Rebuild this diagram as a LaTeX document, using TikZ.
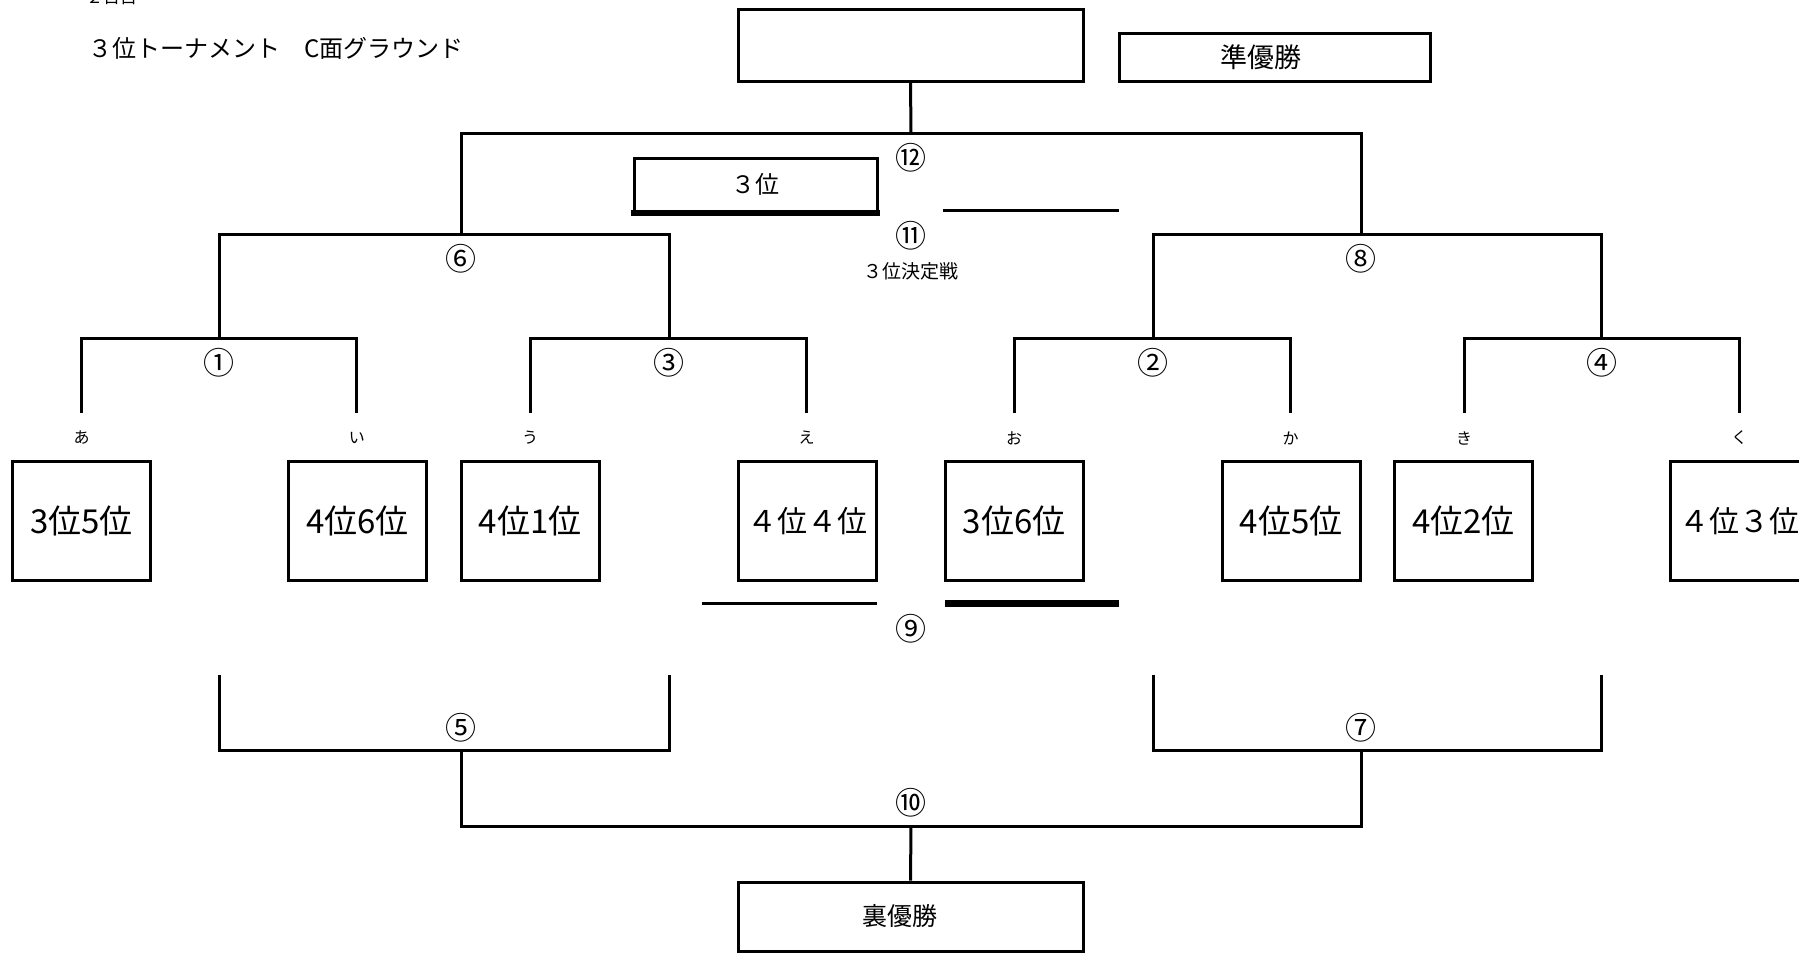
\documentclass[tikz,border=0pt]{standalone}
\usepackage{fontspec}
\setmainfont{Noto Sans CJK JP}
\begin{document}
\begin{tikzpicture}[x=1pt,y=-1pt,
  box/.style={draw,line width=3pt,inner sep=0pt,anchor=center},
  pbox/.style={box,minimum width=138pt,minimum height=119pt,font=\fontsize{30}{30}\selectfont},
  hbox/.style={pbox,font=\fontsize{33}{33}\selectfont},
  ln/.style={line width=3pt},
  num/.style={font=\fontsize{31}{31}\selectfont,inner sep=0pt},
  kana/.style={font=\fontsize{16}{16}\selectfont,inner sep=0pt},
  lbl/.style={inner sep=0pt}]
\useasboundingbox (0,0) rectangle (1799,954);
\clip (0,0) rectangle (1799,954);
% header texts
\node[lbl,anchor=base west,font=\fontsize{17}{17}\selectfont] (day) at (86,3) {２日目};
\node[lbl,anchor=west,font=\fontsize{24}{24}\selectfont] (title) at (88,48) {３位トーナメント　C面グラウンド};
% top boxes
\node[box,minimum width=345pt,minimum height=72pt] (top) at (910.5,45) {};
\node[box,minimum width=311pt,minimum height=48pt] (jun) at (1274.5,57) {};
\node[lbl,font=\fontsize{27}{27}\selectfont] (juntxt) at (1261,57) {準優勝};
\node[box,minimum width=243pt,minimum height=53pt,font=\fontsize{24}{24}\selectfont] (third) at (755.5,184.5) {３位};
\draw[line width=6pt] ([xshift=-1.5pt]third.south west) -- ([xshift=1.5pt]third.south east);
% player boxes
\node[hbox] (pa) at (81.5,521) {3位5位};
\node[hbox] (pi) at (357.4,521) {4位6位};
\node[hbox] (pu) at (530,521) {4位1位};
\node[pbox] (pe) at (807,521) {４位４位};
\node[hbox] (po) at (1014.2,521) {3位6位};
\node[hbox] (pk) at (1291,521) {4位5位};
\node[hbox] (pki) at (1463.4,521) {4位2位};
\node[pbox] (pku) at (1739.3,521) {４位３位};
% bottom box
\node[box,minimum width=345pt,minimum height=69pt] (ura) at (910.5,916.5) {};
\node[lbl,font=\fontsize{25}{25}\selectfont] (uratxt) at (900,916.5) {裏優勝};
% coordinates of bracket ends
\coordinate (a) at (81.5,413);
\coordinate (i) at (356.8,413);
\coordinate (u) at (530,413);
\coordinate (e) at (806.5,413);
\coordinate (o) at (1014.2,413);
\coordinate (k) at (1290.7,413);
\coordinate (ki) at (1464,413);
\coordinate (ku) at (1739.3,413);
\coordinate (J1) at (219,338.5);
\coordinate (J3) at (669,338.5);
\coordinate (J2) at (1153,338.5);
\coordinate (J4) at (1601.6,338.5);
\coordinate (J6) at (461,234);
\coordinate (J8) at (1361,234);
\coordinate (J12) at (911,133);
\coordinate (D5a) at (219,674.6);
\coordinate (D5b) at (669,674.6);
\coordinate (D7a) at (1153,674.6);
\coordinate (D7b) at (1601.6,674.6);
\coordinate (J5) at (461,750.3);
\coordinate (J7) at (1361,750.3);
\coordinate (J10) at (911,826);
% upper brackets
\draw[ln] (a) |- (J1) -| (i);
\draw[ln] (u) |- (J3) -| (e);
\draw[ln] (o) |- (J2) -| (k);
\draw[ln] (ki) |- (J4) -| (ku);
\draw[ln] (J1) |- (J6) -| (J3);
\draw[ln] (J2) |- (J8) -| (J4);
\draw[ln] (J6) |- (J12) -| (J8);
\draw[ln] (J12) -- (top.south);
% lower brackets
\draw[ln] (D5a) |- (J5) -| (D5b);
\draw[ln] (D7a) |- (J7) -| (D7b);
\draw[ln] (J5) |- (J10) -| (J7);
\draw[ln] (J10) -- (ura.north);
% third-place lines
\coordinate (t1) at (943,210);
\coordinate (t2) at (1119,210);
\draw[ln] (t1) -- (t2);
\coordinate (n1) at (702,603.5);
\coordinate (n2) at (876.5,603.5);
\draw[ln] (n1) -- (n2);
\coordinate (m1) at (945.4,603.5);
\coordinate (m2) at (1119,603.5);
\draw[line width=7pt] (m1) -- (m2);
% match numbers
\node[num] (m12) at (911,158) {⑫};
\node[num] (m11) at (911,236) {⑪};
\node[lbl,font=\fontsize{19}{19}\selectfont] (kettei) at (911,271) {３位決定戦};
\node[num] (m6) at (461,259) {⑥};
\node[num] (m8) at (1361,259) {⑧};
\node[num] (m1n) at (219,362.5) {①};
\node[num] (m3n) at (669,362.5) {③};
\node[num] (m2n) at (1153,362.5) {②};
\node[num] (m4n) at (1601.6,362.5) {④};
\node[num] (m9) at (911,628.7) {⑨};
\node[num] (m5) at (461,727.4) {⑤};
\node[num] (m7) at (1361,727.4) {⑦};
\node[num] (m10) at (911,803) {⑩};
% kana labels
\node[kana] (la) at (81.5,438) {あ};
\node[kana] (li) at (356.8,438) {い};
\node[kana] (lu) at (530,438) {う};
\node[kana] (le) at (806.5,438) {え};
\node[kana] (lo) at (1014.2,438) {お};
\node[kana] (lk) at (1290.7,438) {か};
\node[kana] (lki) at (1464,438) {き};
\node[kana] (lku) at (1739.3,438) {く};
\end{tikzpicture}
\end{document}
